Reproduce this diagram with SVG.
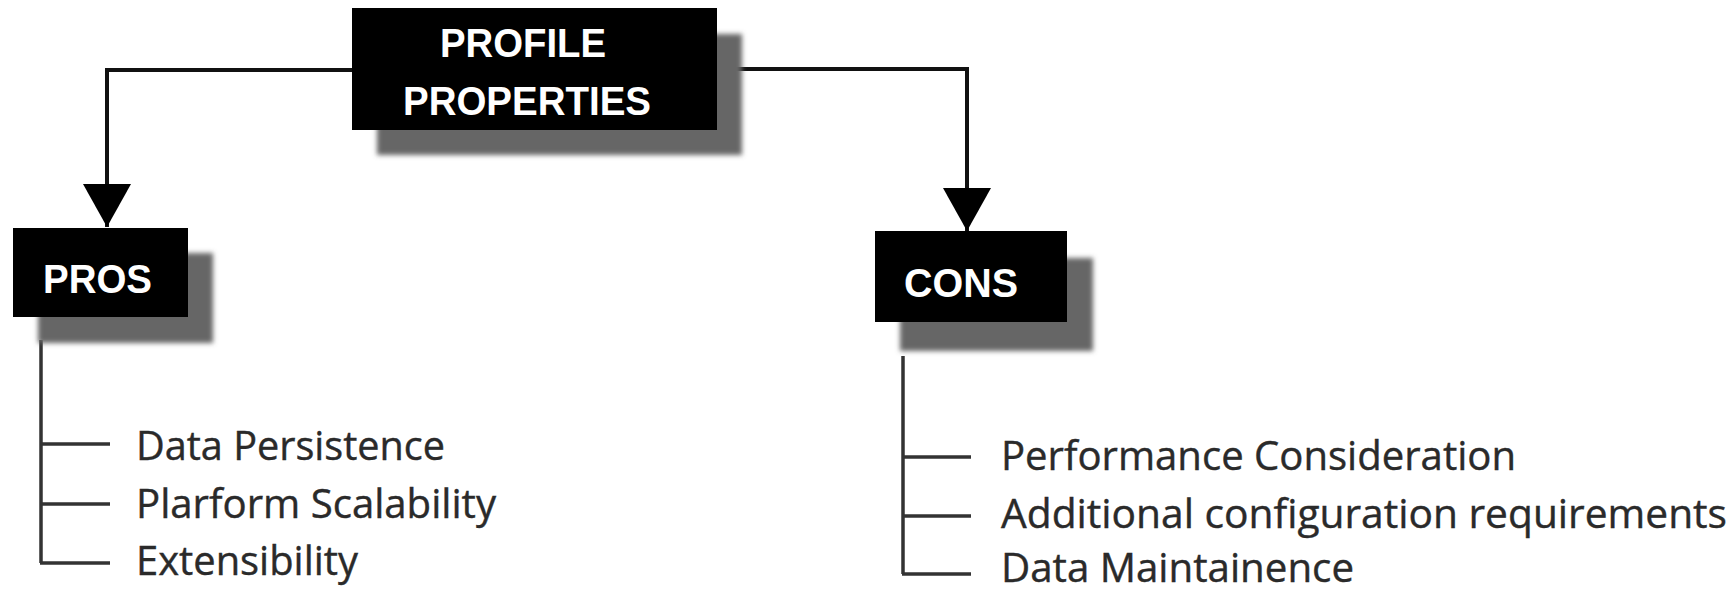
<svg xmlns="http://www.w3.org/2000/svg" width="1735" height="591" viewBox="0 0 1735 591">
<defs>
<filter id="blur" x="-10%" y="-10%" width="120%" height="120%"><feGaussianBlur stdDeviation="2.5"/></filter>
<marker id="arr" markerWidth="48" markerHeight="44" refX="24" refY="43" orient="0" markerUnits="userSpaceOnUse"><path d="M0,0 L48,0 L24,43 Z" fill="#000"/></marker>
</defs>
<style>
.box{fill:#000}
.shadow{fill:#666;filter:url(#blur)}
.head{font-family:"Liberation Sans",Arial,sans-serif;font-weight:bold;font-size:40px;fill:#fff}
.item{font-family:"Open Sans","Liberation Sans",sans-serif;font-size:40px;fill:#2a2a2a;stroke:#2a2a2a;stroke-width:0.4}
.conn{stroke:#111;stroke-width:4;fill:none}
.list{stroke:#333;stroke-width:3.5;fill:none}
</style>
<rect width="1735" height="591" fill="#fff"/>
<g id="connectors">
<path class="conn" d="M352,70 L107,70 L107,227" marker-end="url(#arr)"/>
<path class="conn" d="M717,69 L967,69 L967,231" marker-end="url(#arr)"/>
<path class="list" d="M41,340 L41,563 M40,444 L110,444 M40,504 L110,504 M40,563 L110,563"/>
<path class="list" d="M903,356 L903,574 M902,457 L971,457 M902,516 L971,516 M902,574 L971,574"/>
</g>
<g id="node-profile">
<rect class="shadow" x="377" y="34" width="365" height="121"/>
<rect class="box" x="352" y="8" width="365" height="122"/>
<text class="head" x="440" y="57" textLength="166" lengthAdjust="spacingAndGlyphs">PROFILE</text>
<text class="head" x="403" y="115" textLength="248" lengthAdjust="spacingAndGlyphs">PROPERTIES</text>
</g>
<g id="node-pros">
<rect class="shadow" x="38" y="253" width="175" height="90"/>
<rect class="box" x="13" y="228" width="175" height="89"/>
<text class="head" x="43" y="293" textLength="109" lengthAdjust="spacingAndGlyphs">PROS</text>
</g>
<g id="node-cons">
<rect class="shadow" x="900" y="258" width="193" height="93"/>
<rect class="box" x="875" y="231" width="192" height="91"/>
<text class="head" x="904" y="297" textLength="114" lengthAdjust="spacingAndGlyphs">CONS</text>
</g>
<g id="pros-items">
<text class="item" x="136" y="460" textLength="309" lengthAdjust="spacingAndGlyphs">Data Persistence</text>
<text class="item" x="136" y="518" textLength="360" lengthAdjust="spacingAndGlyphs">Plarform Scalability</text>
<text class="item" x="136" y="575" textLength="222" lengthAdjust="spacingAndGlyphs">Extensibility</text>
</g>
<g id="cons-items">
<text class="item" x="1001" y="470" textLength="515" lengthAdjust="spacingAndGlyphs">Performance Consideration</text>
<text class="item" x="1001" y="528" textLength="726" lengthAdjust="spacingAndGlyphs">Additional configuration requirements</text>
<text class="item" x="1001" y="582" textLength="353" lengthAdjust="spacingAndGlyphs">Data Maintainence</text>
</g>
</svg>
